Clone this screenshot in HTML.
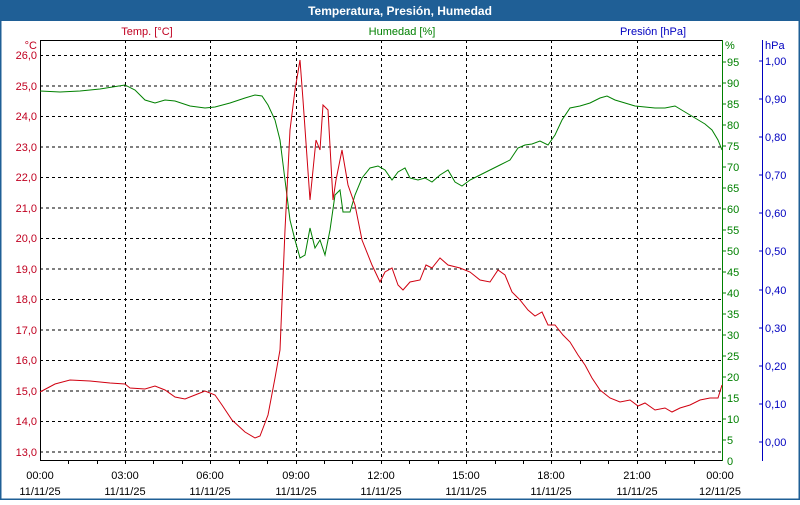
<!DOCTYPE html>
<html><head><meta charset="utf-8"><style>
body{margin:0;width:800px;height:500px;overflow:hidden;background:#fff;font-family:"Liberation Sans","DejaVu Sans",sans-serif}
</style></head><body>
<svg width="800" height="500" xmlns="http://www.w3.org/2000/svg" font-family="Liberation Sans, DejaVu Sans, sans-serif" font-size="11">
<rect x="0" y="0" width="800" height="500" fill="#fff"/>
<rect x="0.5" y="0.5" width="799" height="499" fill="none" stroke="#1f5f96" stroke-width="2"/>
<rect x="0" y="0" width="800" height="21" fill="#1f5f96"/>
<text x="400" y="15" text-anchor="middle" fill="#fff" font-weight="bold" font-size="12">Temperatura, Presión, Humedad</text>
<text x="147" y="35" text-anchor="middle" fill="#c00020">Temp. [°C]</text>
<text x="402" y="35" text-anchor="middle" fill="#008000">Humedad [%]</text>
<text x="653" y="35" text-anchor="middle" fill="#0000c0">Presión [hPa]</text>
<g stroke="#000" stroke-dasharray="3,3" stroke-width="1">
<line x1="40" x2="722" y1="55.5" y2="55.5"/><line x1="40" x2="722" y1="86" y2="86"/><line x1="40" x2="722" y1="116.5" y2="116.5"/><line x1="40" x2="722" y1="147" y2="147"/><line x1="40" x2="722" y1="177.5" y2="177.5"/><line x1="40" x2="722" y1="208" y2="208"/><line x1="40" x2="722" y1="238.5" y2="238.5"/><line x1="40" x2="722" y1="269" y2="269"/><line x1="40" x2="722" y1="299.5" y2="299.5"/><line x1="40" x2="722" y1="330" y2="330"/><line x1="40" x2="722" y1="360.5" y2="360.5"/><line x1="40" x2="722" y1="391" y2="391"/><line x1="40" x2="722" y1="421.5" y2="421.5"/><line x1="40" x2="722" y1="452" y2="452"/>
<line y1="40" y2="460" x1="125.5" x2="125.5"/><line y1="40" y2="460" x1="210.5" x2="210.5"/><line y1="40" y2="460" x1="296.5" x2="296.5"/><line y1="40" y2="460" x1="381.5" x2="381.5"/><line y1="40" y2="460" x1="466.5" x2="466.5"/><line y1="40" y2="460" x1="551.5" x2="551.5"/><line y1="40" y2="460" x1="637.5" x2="637.5"/>
</g>
<g stroke="#000"><line x1="40.5" x2="40.5" y1="40" y2="461"/><line x1="40" x2="722" y1="40.5" y2="40.5"/><line x1="40" x2="722" y1="460.5" y2="460.5"/>
<line x1="68.5" x2="68.5" y1="460" y2="464"/><line x1="97.5" x2="97.5" y1="460" y2="464"/><line x1="125.5" x2="125.5" y1="460" y2="464"/><line x1="153.5" x2="153.5" y1="460" y2="464"/><line x1="182.5" x2="182.5" y1="460" y2="464"/><line x1="210.5" x2="210.5" y1="460" y2="464"/><line x1="239.5" x2="239.5" y1="460" y2="464"/><line x1="267.5" x2="267.5" y1="460" y2="464"/><line x1="296.5" x2="296.5" y1="460" y2="464"/><line x1="324.5" x2="324.5" y1="460" y2="464"/><line x1="352.5" x2="352.5" y1="460" y2="464"/><line x1="381.5" x2="381.5" y1="460" y2="464"/><line x1="409.5" x2="409.5" y1="460" y2="464"/><line x1="438.5" x2="438.5" y1="460" y2="464"/><line x1="466.5" x2="466.5" y1="460" y2="464"/><line x1="495.5" x2="495.5" y1="460" y2="464"/><line x1="523.5" x2="523.5" y1="460" y2="464"/><line x1="551.5" x2="551.5" y1="460" y2="464"/><line x1="580.5" x2="580.5" y1="460" y2="464"/><line x1="608.5" x2="608.5" y1="460" y2="464"/><line x1="637.5" x2="637.5" y1="460" y2="464"/><line x1="665.5" x2="665.5" y1="460" y2="464"/><line x1="694.5" x2="694.5" y1="460" y2="464"/>
</g>
<g fill="#c00020" text-anchor="end">
<text x="37" y="49">°C</text>
<text x="37" y="59">26,0</text><text x="37" y="90">25,0</text><text x="37" y="120">24,0</text><text x="37" y="151">23,0</text><text x="37" y="181">22,0</text><text x="37" y="212">21,0</text><text x="37" y="242">20,0</text><text x="37" y="273">19,0</text><text x="37" y="303">18,0</text><text x="37" y="334">17,0</text><text x="37" y="364">16,0</text><text x="37" y="395">15,0</text><text x="37" y="425">14,0</text><text x="37" y="456">13,0</text>
</g>
<line x1="722.5" x2="722.5" y1="40" y2="461" stroke="#008000"/>
<g stroke="#008000"><line x1="722" x2="726" y1="62" y2="62"/><line x1="722" x2="726" y1="83" y2="83"/><line x1="722" x2="726" y1="104" y2="104"/><line x1="722" x2="726" y1="125" y2="125"/><line x1="722" x2="726" y1="146" y2="146"/><line x1="722" x2="726" y1="167" y2="167"/><line x1="722" x2="726" y1="188" y2="188"/><line x1="722" x2="726" y1="209" y2="209"/><line x1="722" x2="726" y1="230" y2="230"/><line x1="722" x2="726" y1="251" y2="251"/><line x1="722" x2="726" y1="272" y2="272"/><line x1="722" x2="726" y1="293" y2="293"/><line x1="722" x2="726" y1="314" y2="314"/><line x1="722" x2="726" y1="335" y2="335"/><line x1="722" x2="726" y1="356" y2="356"/><line x1="722" x2="726" y1="377" y2="377"/><line x1="722" x2="726" y1="398" y2="398"/><line x1="722" x2="726" y1="419" y2="419"/><line x1="722" x2="726" y1="440" y2="440"/></g>
<g fill="#008000">
<text x="725" y="49">%</text>
<text x="727" y="66">95</text><text x="727" y="87">90</text><text x="727" y="108">85</text><text x="727" y="129">80</text><text x="727" y="150">75</text><text x="727" y="171">70</text><text x="727" y="192">65</text><text x="727" y="213">60</text><text x="727" y="234">55</text><text x="727" y="255">50</text><text x="727" y="276">45</text><text x="727" y="297">40</text><text x="727" y="318">35</text><text x="727" y="339">30</text><text x="727" y="360">25</text><text x="727" y="381">20</text><text x="727" y="402">15</text><text x="727" y="423">10</text><text x="727" y="444">5</text><text x="727" y="465">0</text>
</g>
<line x1="762.5" x2="762.5" y1="40" y2="461" stroke="#0000c0"/>
<g stroke="#0000c0"><line x1="759" x2="762" y1="61" y2="61"/><line x1="759" x2="762" y1="99" y2="99"/><line x1="759" x2="762" y1="137" y2="137"/><line x1="759" x2="762" y1="175" y2="175"/><line x1="759" x2="762" y1="213" y2="213"/><line x1="759" x2="762" y1="251" y2="251"/><line x1="759" x2="762" y1="290" y2="290"/><line x1="759" x2="762" y1="328" y2="328"/><line x1="759" x2="762" y1="366" y2="366"/><line x1="759" x2="762" y1="404" y2="404"/><line x1="759" x2="762" y1="442" y2="442"/></g>
<g fill="#0000c0">
<text x="765" y="49">hPa</text>
<text x="765" y="65">1,00</text><text x="765" y="103">0,90</text><text x="765" y="141">0,80</text><text x="765" y="179">0,70</text><text x="765" y="217">0,60</text><text x="765" y="255">0,50</text><text x="765" y="294">0,40</text><text x="765" y="332">0,30</text><text x="765" y="370">0,20</text><text x="765" y="408">0,10</text><text x="765" y="446">0,00</text>
</g>
<g fill="#000" text-anchor="middle">
<text x="40" y="479">00:00</text><text x="40" y="495">11/11/25</text>
<text x="125" y="479">03:00</text><text x="125" y="495">11/11/25</text>
<text x="210" y="479">06:00</text><text x="210" y="495">11/11/25</text>
<text x="296" y="479">09:00</text><text x="296" y="495">11/11/25</text>
<text x="381" y="479">12:00</text><text x="381" y="495">11/11/25</text>
<text x="466" y="479">15:00</text><text x="466" y="495">11/11/25</text>
<text x="551" y="479">18:00</text><text x="551" y="495">11/11/25</text>
<text x="637" y="479">21:00</text><text x="637" y="495">11/11/25</text>
<text x="720" y="479">00:00</text><text x="720" y="495">12/11/25</text>
</g>
<polyline fill="none" stroke="#008000" stroke-width="1" points="40,91 60,92 80,91 100,89 125,85 135,90 145,100 155,103 165,100 175,101 190,106 205,108 215,107 230,103 245,98 255,95 262,96 268,105 275,120 280,140 285,180 290,220 295,240 300,258 305,255 310,228 315,248 320,240 325,255 330,230 335,195 340,190 343,212 350,212 355,195 362,178 370,168 378,166 385,170 392,180 398,172 405,168 410,178 418,180 425,178 432,182 440,175 448,170 455,182 462,186 470,180 480,175 490,170 500,165 510,160 518,148 525,145 532,144 540,141 548,145 555,135 562,120 570,108 580,106 590,103 600,98 607,96 615,100 625,103 635,106 645,107 655,108 665,108 675,106 685,112 695,118 705,124 712,130 718,140 722,150"/>
<polyline fill="none" stroke="#d00010" stroke-width="1" points="40,392 55,384 70,380 90,381 110,383 125,384 130,388 145,389 155,386 165,390 175,397 185,399 195,395 205,391 215,395 222,405 232,420 245,432 255,438 260,436 268,415 275,378 280,350 285,230 290,130 295,90 300,60 303,100 310,200 316,140 320,150 323,105 328,110 333,200 336,180 342,150 348,185 355,205 362,240 372,265 380,282 385,272 392,268 398,285 403,290 410,282 420,280 426,265 432,268 440,258 448,265 460,268 470,272 480,280 490,282 498,270 505,275 512,292 520,300 528,310 535,316 542,312 548,325 555,325 563,335 570,342 578,355 585,365 592,378 600,390 610,398 620,402 630,400 638,406 645,403 655,410 665,408 672,412 680,408 690,405 700,400 710,398 718,398 722,385"/>
</svg>
</body></html>
